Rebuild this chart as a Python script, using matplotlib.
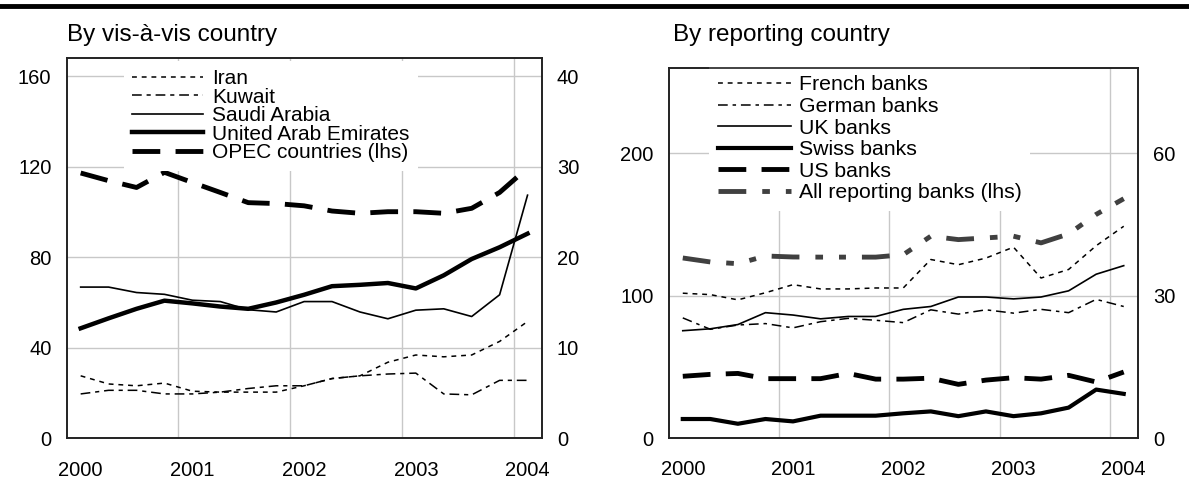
import matplotlib
matplotlib.use("Agg")
import matplotlib.pyplot as plt
from matplotlib.lines import Line2D

plt.rcParams['font.family'] = ['Liberation Sans', 'DejaVu Sans']
plt.rcParams['lines.scale_dashes'] = False

# ---------------- data ----------------
quarters = ["2000Q1", "2000Q2", "2000Q3", "2000Q4",
            "2001Q1", "2001Q2", "2001Q3", "2001Q4",
            "2002Q1", "2002Q2", "2002Q3", "2002Q4",
            "2003Q1", "2003Q2", "2003Q3", "2003Q4",
            "2004Q1"]
year_labels = ["2000", "2001", "2002", "2003", "2004"]

# Left panel: by vis-a-vis country (rhs unless noted)
iran = [6.9, 6.0, 5.8, 6.1, 5.2, 5.1, 5.1, 5.1, 5.8, 6.6, 6.9, 8.4, 9.2, 9.0, 9.2, 10.7, 12.9]
kuwait = [4.9, 5.3, 5.3, 4.9, 4.9, 5.1, 5.5, 5.8, 5.8, 6.6, 6.9, 7.1, 7.2, 4.9, 4.8, 6.4, 6.4]
saudi = [16.7, 16.7, 16.1, 15.9, 15.25, 15.1, 14.2, 13.95, 15.1, 15.1, 13.95, 13.2, 14.15,
         14.3, 13.45, 15.85, 26.85]
uae = [12.15, 13.25, 14.3, 15.2, 14.9, 14.55, 14.3, 15.0, 15.85, 16.8, 16.95, 17.15, 16.55,
       18.0, 19.8, 21.1, 22.6]
opec_lhs = [117.2, 113.8, 110.8, 117.5, 113.0, 108.6, 104.1, 103.7, 102.7, 100.4, 99.4,
            100.1, 100.1, 99.4, 101.6, 108.6, 119.4]

# Right panel: by reporting country (rhs unless noted)
french = [30.5, 30.2, 29.1, 30.6, 32.3, 31.4, 31.4, 31.6, 31.6, 37.6, 36.5, 37.9, 40.2,
          33.7, 35.5, 40.5, 44.6]
german = [25.3, 22.9, 23.8, 24.1, 23.2, 24.5, 25.2, 24.8, 24.3, 27.0, 26.1, 27.0, 26.3,
          27.1, 26.4, 29.2, 27.7]
uk = [22.6, 23.0, 23.9, 26.4, 25.9, 25.1, 25.6, 25.6, 27.1, 27.7, 29.7, 29.7, 29.3, 29.7,
      31.0, 34.5, 36.3]
swiss = [4.0, 4.0, 3.0, 4.0, 3.5, 4.7, 4.7, 4.7, 5.2, 5.6, 4.6, 5.6, 4.6, 5.2, 6.4, 10.2, 9.3]
us = [13.0, 13.4, 13.6, 12.5, 12.5, 12.5, 13.6, 12.4, 12.4, 12.6, 11.3, 12.2, 12.7, 12.4,
      13.2, 11.8, 13.9]
all_banks_lhs = [126.4, 123.6, 122.4, 127.8, 127.1, 127.0, 127.0, 127.0, 128.7, 141.7,
                 139.3, 140.5, 141.7, 137.0, 143.3, 157.0, 168.0]

# ---------------- helpers ----------------
x = [int(q[:4]) + (int(q[5]) - 1) * 0.25 + 0.125 for q in quarters]
years = [int(y) for y in year_labels]

GRID = '#c8c8c8'
GREY = '#404040'
W, H = 1189, 487
TICK_FS = 14.5

fig = plt.figure(figsize=(W / 100, H / 100), dpi=100)


def make_axes(left_px, right_px, top_px, bottom_px):
    return fig.add_axes([left_px / W, (H - bottom_px) / H,
                         (right_px - left_px) / W, (bottom_px - top_px) / H])


def style(ax, ax2, lticks, rticks, ylim, ylim2):
    ax.set_xlim(2000, 2004.25)
    ax.set_ylim(*ylim)
    ax2.set_ylim(*ylim2)
    ax.set_xticks([y + 0.125 for y in years])
    ax.set_xticklabels(year_labels)
    ax.set_xticks(years[1:], minor=True)
    ax.set_yticks(lticks)
    ax.set_yticklabels([str(v) for v in lticks])
    ax2.set_yticks(rticks)
    ax2.set_yticklabels([str(v) for v in rticks])
    ax.grid(False)
    ax.grid(True, which='minor', axis='x', color=GRID, lw=1.0)
    ax.grid(True, which='major', axis='y', color=GRID, lw=1.0)
    ax.set_axisbelow(True)
    ax.tick_params(axis='x', which='both', length=0, pad=16, labelsize=TICK_FS)
    ax.tick_params(axis='y', length=0, pad=11, labelsize=TICK_FS)
    ax2.tick_params(axis='y', length=0, pad=11, labelsize=TICK_FS)
    for a in (ax, ax2):
        for s in a.spines.values():
            s.set_color('#222222')
            s.set_linewidth(1.2)
            s.set_zorder(3)


# ---------------- left panel ----------------
axL = make_axes(66.7, 541.5, 58, 438.3)
axL2 = axL.twinx()
style(axL, axL2, [0, 40, 80, 120, 160], [0, 10, 20, 30, 40], (0, 168), (0, 42))

h_opec, = axL.plot(x, opec_lhs, color='black', lw=3.5, ls=(0, (20, 11)),
                   dash_capstyle='butt', label='OPEC countries (lhs)')
h_iran, = axL2.plot(x, iran, color='black', lw=1.1, ls=(0, (3.5, 3.5)), label='Iran')
h_kuw, = axL2.plot(x, kuwait, color='black', lw=1.1, ls=(0, (7, 3.5, 3, 3.5)), label='Kuwait')
h_sau, = axL2.plot(x, saudi, color='black', lw=1.2, label='Saudi Arabia')
h_uae, = axL2.plot(x, uae, color='black', lw=3.2, label='United Arab Emirates',
                   solid_joinstyle='round')

legL = axL2.legend(handles=[h_iran, h_kuw, h_sau, h_uae, h_opec], loc='upper left',
                   bbox_to_anchor=(0.12, 0.993), borderaxespad=0, borderpad=0.4,
                   fontsize=15, handlelength=3.4, handletextpad=0.46, labelspacing=-0.02,
                   frameon=True, facecolor='white', edgecolor='none', framealpha=1,
                   fancybox=False)
legL.set_zorder(2.5)

fig.text(66.7 / W, 1 - 41 / H, 'By vis-à-vis country', fontsize=17.5, ha='left',
         va='baseline')

# ---------------- right panel ----------------
axR = make_axes(669, 1137.5, 67.7, 438.0)
axR2 = axR.twinx()
style(axR, axR2, [0, 100, 200], [0, 30, 60], (0, 260), (0, 78))

h_all, = axR.plot(x, all_banks_lhs, color=GREY, lw=3.5,
                  ls=(0, (20, 11.5, 5.5, 11.5, 5, 11.5)), dash_capstyle='butt',
                  label='All reporting banks (lhs)')
h_fr, = axR2.plot(x, french, color='black', lw=1.1, ls=(0, (3.5, 3.5)), label='French banks')
h_de, = axR2.plot(x, german, color='black', lw=1.1, ls=(0, (7, 3.5, 2.5, 3.5)),
                  label='German banks')
h_uk, = axR2.plot(x, uk, color='black', lw=1.2, label='UK banks')
h_ch, = axR2.plot(x, swiss, color='black', lw=3.0, label='Swiss banks')
h_us, = axR2.plot(x, us, color='black', lw=3.5, ls=(0, (20, 11)), dash_capstyle='butt',
                  label='US banks')

legR = axR2.legend(handles=[h_fr, h_de, h_uk, h_ch, h_us, h_all], loc='upper left',
                   bbox_to_anchor=(0.0855, 1.002), borderaxespad=0, borderpad=0.4,
                   fontsize=15.3, handlelength=3.45, handletextpad=0.38, labelspacing=0.12,
                   frameon=True, facecolor='white', edgecolor='none', framealpha=1,
                   fancybox=False)
legR.set_zorder(2.5)

fig.text(673 / W, 1 - 41.5 / H, 'By reporting country', fontsize=17.5, ha='left',
         va='baseline')

# top rule
fig.add_artist(Line2D([0, 1], [1 - 5.5 / H, 1 - 5.5 / H], color='black', lw=3.5,
                      transform=fig.transFigure))

fig.savefig('out.png', dpi=100)
